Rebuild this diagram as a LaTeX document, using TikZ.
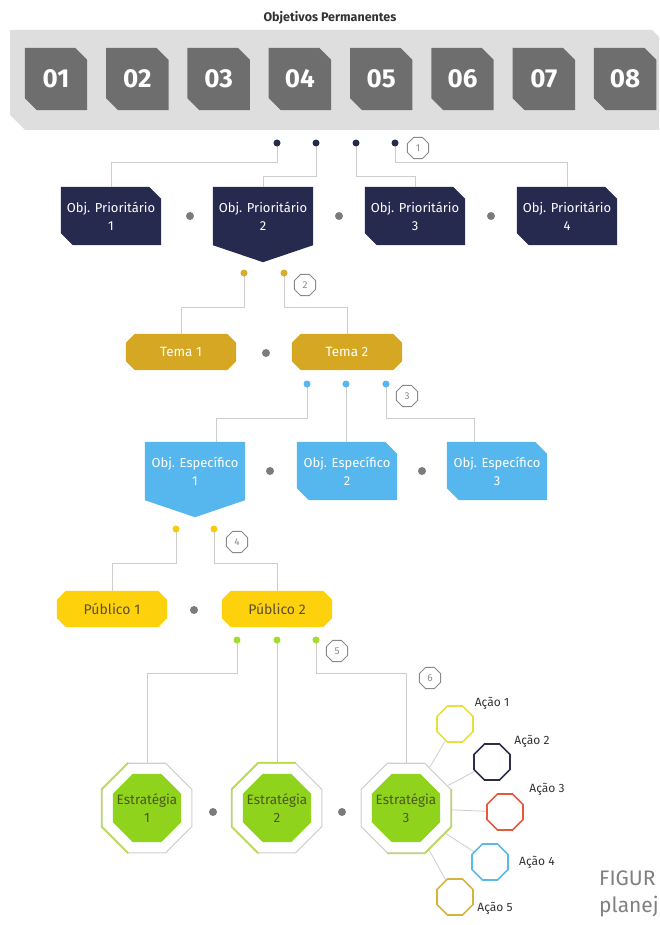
\documentclass[tikz,border=0pt]{standalone}
\usepackage{fontspec}
\setmainfont{Fira Sans}
\usetikzlibrary{shapes.geometric,calc}
\pgfdeclarelayer{bg}
\pgfsetlayers{bg,main}
\definecolor{navy}{HTML}{272A4F}
\definecolor{gold}{HTML}{D6A722}
\definecolor{golddot}{HTML}{D9AE2C}
\definecolor{sky}{HTML}{56B7EF}
\definecolor{yel}{HTML}{FDD10C}
\definecolor{yeldot}{HTML}{F4CB10}
\definecolor{pubtext}{HTML}{5C5032}
\definecolor{lime}{HTML}{8FD31C}
\definecolor{limetext}{HTML}{4B5A1E}
\definecolor{limedot}{HTML}{A3DC2C}
\definecolor{limeline}{HTML}{B9DD4A}
\definecolor{bandg}{HTML}{DEDEDE}
\definecolor{tileg}{HTML}{6E6E6E}
\definecolor{lineg}{HTML}{CDCDCD}
\definecolor{sepg}{HTML}{7B7B7B}
\definecolor{numg}{HTML}{8A8A8A}
\definecolor{octg}{HTML}{CFCFCF}
\definecolor{aone}{HTML}{E6DF3C}
\definecolor{atwo}{HTML}{2D2F4A}
\definecolor{athree}{HTML}{E45A3C}
\definecolor{afour}{HTML}{5AB8EA}
\definecolor{afive}{HTML}{D4B43C}
\definecolor{capg}{HTML}{808080}
\definecolor{titleg}{HTML}{333333}

\newcommand\chamTRBL[3]{\fill[#2] (#1.north west) -- ([xshift=-#3pt]#1.north east) -- ([yshift=-#3pt]#1.north east) -- (#1.south east) -- ([xshift=#3pt]#1.south west) -- ([yshift=#3pt]#1.south west) -- cycle;}
\newcommand\pointbox[3]{\fill[#2] (#1.north west) -- (#1.north east) -- (#1.south east) -- ([yshift=-#3pt]#1.south) -- (#1.south west) -- cycle;}
\newcommand\octbox[3]{\fill[#2] ([xshift=#3pt]#1.north west) -- ([xshift=-#3pt]#1.north east) -- ([yshift=-#3pt]#1.north east) -- ([yshift=#3pt]#1.south east) -- ([xshift=-#3pt]#1.south east) -- ([xshift=#3pt]#1.south west) -- ([yshift=#3pt]#1.south west) -- ([yshift=-#3pt]#1.north west) -- cycle;}

\begin{document}
\begin{tikzpicture}[x=1pt,y=-1pt,
  conn/.style={draw=lineg, line width=0.8pt},
  sdot/.style={circle, fill=sepg, inner sep=0pt, minimum size=8pt},
  cdot/.style={circle, fill=#1, inner sep=0pt, minimum size=7pt},
  numlbl/.style={regular polygon, regular polygon sides=8, minimum size=23pt, inner sep=0pt, draw=numg, line width=0.8pt, text=numg, font=\fontsize{10}{11}\selectfont},
  tilen/.style={minimum width=62pt, minimum height=62pt, inner sep=0pt, text=white, font=\fontsize{26}{26}\selectfont\bfseries},
  pbox/.style={minimum width=100pt, minimum height=58pt, inner sep=0pt, align=center, text=white, font=\fontsize{13}{18}\selectfont},
  tbox/.style={minimum width=110pt, minimum height=36pt, inner sep=0pt, text=white, font=\fontsize{13.5}{14}\selectfont},
  pubbox/.style={minimum width=110pt, minimum height=36pt, inner sep=0pt, text=pubtext, font=\fontsize{14}{15}\selectfont},
  ooct/.style={regular polygon, regular polygon sides=8, minimum size=97pt, inner sep=0pt, draw=octg, line width=1.1pt, fill=white},
  ioct/.style={regular polygon, regular polygon sides=8, minimum size=74pt, inner sep=0pt, fill=lime},
  itext/.style={text=limetext, align=center, inner sep=0pt, font=\fontsize{13.5}{18}\selectfont},
  gline/.style={draw=limeline, line width=1.6pt, line join=round},
  aoct/.style={regular polygon, regular polygon sides=8, minimum size=39pt, inner sep=0pt, draw=#1, line width=1.6pt},
  albl/.style={text=titleg, font=\fontsize{12}{13}\selectfont, inner sep=0pt}
]
\useasboundingbox (0,0) rectangle (659,925);

% title and band
\node[font=\fontsize{12.5}{14}\selectfont\bfseries, text=titleg] (title) at (330,18) {Objetivos Permanentes};
\begin{pgfonlayer}{bg}
\fill[bandg] (10,30) -- (652,30) -- (659,37) -- (659,130) -- (25,130) -- (10,115) -- cycle;
\end{pgfonlayer}

% tiles
\foreach \k/\lab in {0/01,1/02,2/03,3/04,4/05,5/06,6/07,7/08}{
  \node[tilen] (tile\lab) at ({56+81.3*\k},79) {\lab};
  \begin{pgfonlayer}{bg}\chamTRBL{tile\lab}{tileg}{12}\end{pgfonlayer}
}

% level 1
\node[pbox] (p1) at (111,216) {Obj. Prioritário\\1};
\node[pbox] (p2) at (263,216) {Obj. Prioritário\\2};
\node[pbox] (p3) at (415,216) {Obj. Prioritário\\3};
\node[pbox] (p4) at (567,216) {Obj. Prioritário\\4};
\begin{pgfonlayer}{bg}
\chamTRBL{p1}{navy}{12}
\pointbox{p2}{navy}{17}
\chamTRBL{p3}{navy}{12}
\chamTRBL{p4}{navy}{12}
\end{pgfonlayer}
\node[cdot=navy] (n1) at (277,143) {};
\node[cdot=navy] (n2) at (316,143) {};
\node[cdot=navy] (n3) at (356,143) {};
\node[cdot=navy] (n4) at (395,143) {};
\node[numlbl] (k1) at (418,148) {1};
\node[sdot] (s11) at (190,216) {};
\node[sdot] (s12) at (339,216) {};
\node[sdot] (s13) at (491,216) {};
\begin{pgfonlayer}{bg}
\draw[conn] (n1.center) -- ++(0,19) -| (p1.north);
\draw[conn] (n2.center) -- ++(0,33) -| (p2.north);
\draw[conn] (n3.center) -- ++(0,33) -| (p3.north);
\draw[conn] (n4.center) -- ++(0,19) -| (p4.north);
\end{pgfonlayer}

% level 2
\node[tbox] (t1) at (181,352) {Tema 1};
\node[tbox] (t2) at (347,352) {Tema 2};
\begin{pgfonlayer}{bg}
\octbox{t1}{gold}{9}
\octbox{t2}{gold}{9}
\end{pgfonlayer}
\node[cdot=golddot] (g1) at (244,273) {};
\node[cdot=golddot] (g2) at (284,273) {};
\node[numlbl] (k2) at (305,285) {2};
\node[sdot] (s21) at (266,353) {};
\begin{pgfonlayer}{bg}
\draw[conn] (g1.center) -- ++(0,34) -| (t1.north);
\draw[conn] (g2.center) -- ++(0,34) -| (t2.north);
\end{pgfonlayer}

% level 3
\node[pbox] (e1) at (195,471) {Obj. Específico\\1};
\node[pbox] (e2) at (347,471) {Obj. Específico\\2};
\node[pbox] (e3) at (497,471) {Obj. Específico\\3};
\begin{pgfonlayer}{bg}
\pointbox{e1}{sky}{17}
\chamTRBL{e2}{sky}{12}
\chamTRBL{e3}{sky}{12}
\end{pgfonlayer}
\node[cdot=sky] (b1) at (307,384) {};
\node[cdot=sky] (b2) at (346,384) {};
\node[cdot=sky] (b3) at (386,384) {};
\node[numlbl] (k3) at (407,396) {3};
\node[sdot] (s31) at (270,471) {};
\node[sdot] (s32) at (422,471) {};
\begin{pgfonlayer}{bg}
\draw[conn] (b1.center) -- ++(0,34) -| ([xshift=21pt]e1.north);
\draw[conn] (b2.center) -- (b2.center |- e2.north);
\draw[conn] (b3.center) -- ++(0,34) -| ([xshift=-23pt]e3.north);
\end{pgfonlayer}

% level 4
\node[pubbox] (u1) at (112,609) {Público 1};
\node[pubbox] (u2) at (277,609) {Público 2};
\begin{pgfonlayer}{bg}
\octbox{u1}{yel}{9}
\octbox{u2}{yel}{9}
\end{pgfonlayer}
\node[cdot=yeldot] (y1) at (176,529) {};
\node[cdot=yeldot] (y2) at (214,529) {};
\node[numlbl] (k4) at (237,542) {4};
\node[sdot] (s41) at (194,610) {};
\begin{pgfonlayer}{bg}
\draw[conn] (y1.center) -- ++(0,34) -| (u1.north);
\draw[conn] (y2.center) -- ++(0,34) -| (u2.north);
\end{pgfonlayer}

% level 5
\node[cdot=limedot] (v1) at (237,640) {};
\node[cdot=limedot] (v2) at (277,640) {};
\node[cdot=limedot] (v3) at (316,640) {};
\node[numlbl] (k5) at (337,651) {5};
\node[numlbl] (k6) at (430,678) {6};
\node[ooct] (so1) at (147,808) {};
\node[ooct] (so2) at (277,808) {};
\node[ooct] (so3) at (406,808) {};
\draw[gline] (so1.corner 2) -- (so1.corner 3) -- (so1.corner 4) -- (so1.corner 5);
\draw[gline] (so2.corner 1) -- (so2.corner 2) -- (so2.corner 3) -- (so2.corner 4) -- (so2.corner 5);
\draw[gline] (so3.corner 8) -- (so3.corner 7) -- (so3.corner 6) -- (so3.corner 5);
\node[ioct] (si1) at (147,808) {};
\node[ioct] (si2) at (277,808) {};
\node[ioct] (si3) at (406,808) {};
\node[itext] (st1) at (147,808) {Estratégia\\1};
\node[itext] (st2) at (277,808) {Estratégia\\2};
\node[itext] (st3) at (406,808) {Estratégia\\3};
\node[sdot] (s51) at (213,812) {};
\node[sdot] (s52) at (342,812) {};
\begin{pgfonlayer}{bg}
\draw[conn] (v1.center) -- ++(0,33) -| (so1.north);
\draw[conn] (v2.center) -- (v2.center |- so2.north);
\draw[conn] (v3.center) -- ++(0,33) -| (so3.north);
\end{pgfonlayer}

% actions
\node[aoct=aone] (a1) at (455,724) {};
\node[aoct=atwo] (a2) at (492,762) {};
\node[aoct=athree] (a3) at (505,812) {};
\node[aoct=afour] (a4) at (490,862) {};
\node[aoct=afive] (a5) at (455,897) {};
\begin{pgfonlayer}{bg}
\draw[conn] (so3) -- (a1);
\draw[conn] (so3) -- (a2);
\draw[conn] (so3) -- (a3);
\draw[conn] (so3) -- (a4);
\draw[conn] (so3) -- (a5);
\end{pgfonlayer}
\node[albl] (la1) at (492,703) {Ação 1};
\node[albl] (la2) at (532,741) {Ação 2};
\node[albl] (la3) at (547,789) {Ação 3};
\node[albl] (la4) at (537,862) {Ação 4};
\node[albl] (la5) at (495,908) {Ação 5};

% caption fragment
\node[anchor=west, text=capg, inner sep=0pt, font=\fontsize{21}{21}\selectfont] (fig1) at (599,878) {FIGUR};
\node[anchor=west, text=capg, inner sep=0pt, font=\fontsize{21}{21}\selectfont] (fig2) at (599,907) {planej};
\end{tikzpicture}
\end{document}
